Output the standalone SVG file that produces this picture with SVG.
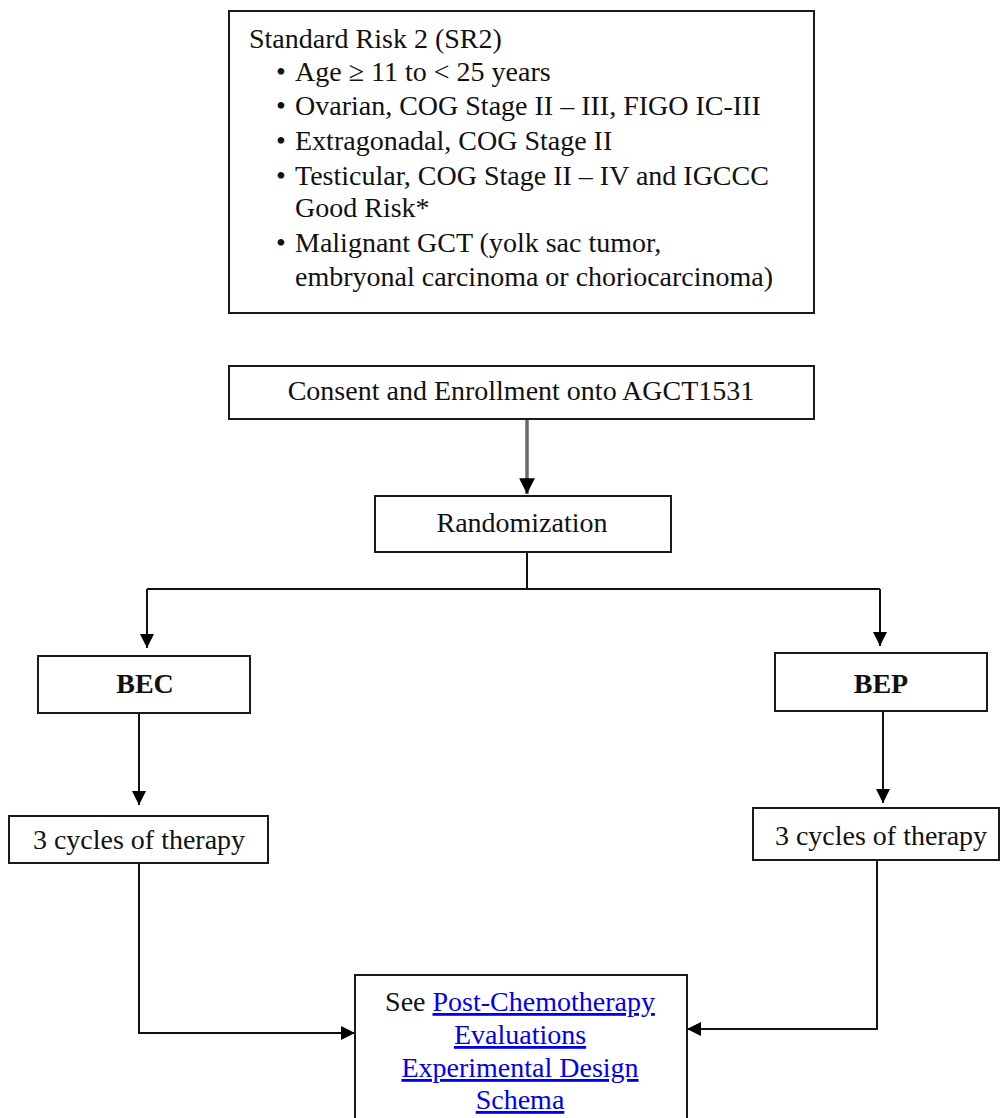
<svg xmlns="http://www.w3.org/2000/svg" width="1001" height="1118" viewBox="0 0 1001 1118">
<style>
  .box { fill: #ffffff; stroke: #1a1a1a; stroke-width: 2; }
  .t { font-family: "Liberation Serif", "Times New Roman", serif; font-size: 28px; fill: #111111; }
  .c { text-anchor: middle; }
  .b { font-weight: bold; }
  .lnk { fill: #0000ee; text-decoration: underline; }
  .conn { fill: none; stroke: #111111; stroke-width: 2; }
  .gray { stroke: #6a6a6a; stroke-width: 3.5; }
</style>
<defs>
  <marker id="ah" viewBox="0 0 10 10" refX="10" refY="5" markerWidth="14" markerHeight="14" markerUnits="userSpaceOnUse" orient="auto">
    <path d="M0,0 L10,5 L0,10 Z" fill="#000000"/>
  </marker>
  <marker id="ahg" viewBox="0 0 10 10" refX="10" refY="5" markerWidth="4.5" markerHeight="4.5" orient="auto">
    <path d="M0,0 L10,5 L0,10 Z" fill="#000000"/>
  </marker>
</defs>
<rect width="1001" height="1118" fill="#ffffff"/>

<g id="connectors">
  <path class="conn gray" d="M527,419 L527,494" marker-end="url(#ahg)"/>
  <path class="conn" d="M527,552 L527,589 M147,589 L880,589"/>
  <path class="conn" d="M147,589 L147,648" marker-end="url(#ah)"/>
  <path class="conn" d="M880,589 L880,646" marker-end="url(#ah)"/>
  <path class="conn" d="M139,714 L139,805" marker-end="url(#ah)"/>
  <path class="conn" d="M883,712 L883,803" marker-end="url(#ah)"/>
  <path class="conn" d="M139,863 L139,1033 L355,1033" marker-end="url(#ah)"/>
  <path class="conn" d="M877,860 L877,1029 L687,1029" marker-end="url(#ah)"/>
</g>

<g id="sr2">
  <rect class="box" x="229" y="11" width="585" height="302"/>
  <text class="t" x="249" y="48">Standard Risk 2 (SR2)</text>
  <text class="t" x="276" y="81">•</text>
  <text class="t" x="295" y="81">Age ≥ 11 to &lt; 25 years</text>
  <text class="t" x="276" y="115">•</text>
  <text class="t" x="295" y="115">Ovarian, COG Stage II – III, FIGO IC-III</text>
  <text class="t" x="276" y="150">•</text>
  <text class="t" x="295" y="150">Extragonadal, COG Stage II</text>
  <text class="t" x="276" y="185">•</text>
  <text class="t" x="295" y="185">Testicular, COG Stage II – IV and IGCCC</text>
  <text class="t" x="295" y="217">Good Risk*</text>
  <text class="t" x="276" y="252">•</text>
  <text class="t" x="295" y="252">Malignant GCT (yolk sac tumor,</text>
  <text class="t" x="295" y="286">embryonal carcinoma or choriocarcinoma)</text>
</g>

<g id="consent">
  <rect class="box" x="229" y="366" width="585" height="53"/>
  <text class="t c" x="521" y="400">Consent and Enrollment onto AGCT1531</text>
</g>

<g id="randomization">
  <rect class="box" x="375" y="496" width="296" height="56"/>
  <text class="t c" x="522" y="532">Randomization</text>
</g>

<g id="bec">
  <rect class="box" x="38" y="656" width="212" height="57"/>
  <text class="t c b" x="145" y="693">BEC</text>
</g>

<g id="bep">
  <rect class="box" x="775" y="653" width="212" height="58"/>
  <text class="t c b" x="881" y="693">BEP</text>
</g>

<g id="cycles-left">
  <rect class="box" x="9" y="816" width="259" height="47"/>
  <text class="t c" x="139" y="849">3 cycles of therapy</text>
</g>

<g id="cycles-right">
  <rect class="box" x="753" y="808" width="246" height="52"/>
  <text class="t c" x="881" y="845">3 cycles of therapy</text>
</g>

<g id="post-chemo">
  <rect class="box" x="355" y="975" width="332" height="160"/>
  <text class="t c" x="520" y="1011">See <tspan class="lnk">Post-Chemotherapy</tspan></text>
  <text class="t c lnk" x="520" y="1044">Evaluations</text>
  <text class="t c lnk" x="520" y="1077">Experimental Design</text>
  <text class="t c lnk" x="520" y="1109">Schema</text>
</g>
</svg>
